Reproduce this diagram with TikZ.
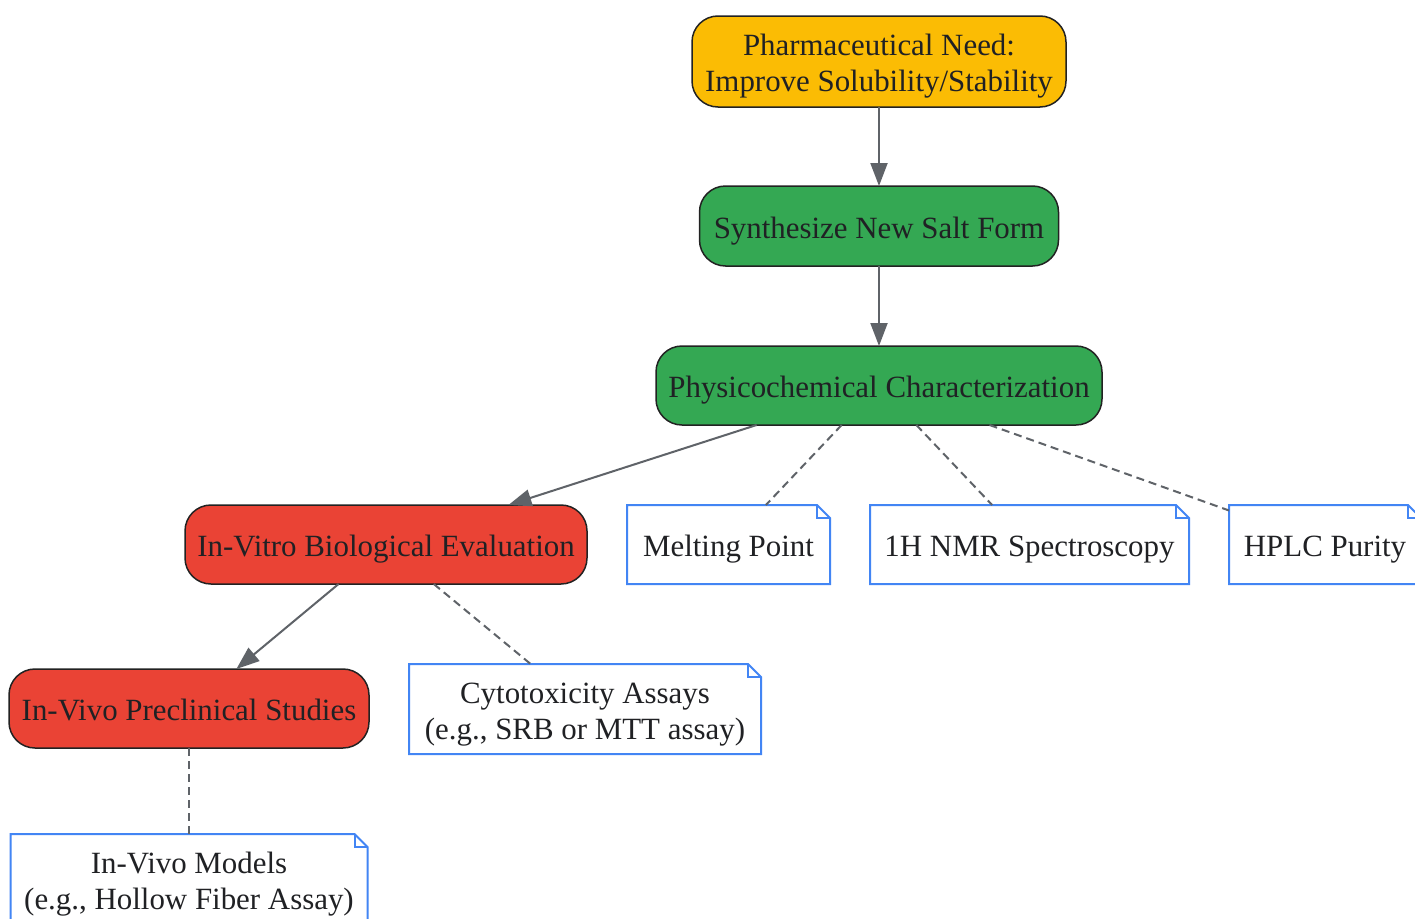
\documentclass[tikz,border=0pt]{standalone}
\usepackage{fontspec}
\setmainfont{Liberation Serif}
\usetikzlibrary{arrows.meta}
\definecolor{gyellow}{HTML}{FBBC04}
\definecolor{ggreen}{HTML}{34A853}
\definecolor{gred}{HTML}{EA4335}
\definecolor{gblue}{HTML}{4285F4}
\definecolor{edgecol}{HTML}{5F6368}
\definecolor{bordercol}{HTML}{222222}
\definecolor{txtcol}{HTML}{202124}
\newcommand\lowtext[1]{\raisebox{-5pt}[\height][\depth]{\begin{tabular}{@{}c@{}}#1\end{tabular}}}
\begin{document}
\begin{tikzpicture}[x=1pt,y=-1pt,
  every node/.style={font=\fontsize{30.9}{36}\selectfont, text=txtcol, align=center, inner sep=0pt, outer sep=0pt},
  proc/.style={draw=bordercol, line width=1.5pt, rounded corners=26pt},
  notebox/.style={draw=none},
  noteline/.style={draw=gblue, line width=2pt, line join=miter},
  link/.style={draw=edgecol, line width=2pt},
  solidarrow/.style={link, -{Triangle[length=23pt,width=17pt]}},
  dashlink/.style={link, dash pattern=on 8pt off 5pt}]
\useasboundingbox (0,0) rectangle (1415,918);
\fill[white] (0,0) rectangle (1415,918);
% process nodes
\node[proc, fill=gyellow, minimum width=374pt, minimum height=91pt] (need) at (879,61.5) {\lowtext{Pharmaceutical Need:\\Improve Solubility/Stability}};
\node[proc, fill=ggreen, minimum width=359pt, minimum height=80pt] (synth) at (879,226) {\lowtext{Synthesize New Salt Form}};
\node[proc, fill=ggreen, minimum width=446pt, minimum height=79pt] (phys) at (879,385.5) {\lowtext{Physicochemical Characterization}};
\node[proc, fill=gred, minimum width=402pt, minimum height=79pt] (vitro) at (386,544.5) {\lowtext{In-Vitro Biological Evaluation}};
\node[proc, fill=gred, minimum width=360pt, minimum height=79pt] (vivo) at (189,708.5) {\lowtext{In-Vivo Preclinical Studies}};
% notes
\node[notebox, minimum width=203pt, minimum height=79pt] (melt) at (728.5,544.5) {\lowtext{Melting Point}};
\node[notebox, minimum width=319pt, minimum height=79pt] (nmr) at (1029.5,544.5) {\lowtext{1H NMR Spectroscopy}};
\node[notebox, minimum width=192pt, minimum height=79pt] (hplc) at (1325,544.5) {\lowtext{HPLC Purity}};
\node[notebox, minimum width=352pt, minimum height=90pt] (cyto) at (585,709) {\lowtext{Cytotoxicity Assays\\(e.g., SRB or MTT assay)}};
\node[notebox, minimum width=357pt, minimum height=90pt] (models) at (189,879) {\lowtext{In-Vivo Models\\(e.g., Hollow Fiber Assay)}};
\foreach \n in {melt,nmr,hplc,cyto,models}{
  \draw[noteline] (\n.north west) -- ([xshift=-13pt]\n.north east) -- ([yshift=-13pt]\n.north east) -- (\n.south east) -- (\n.south west) -- cycle;
  \draw[noteline] ([xshift=-13pt]\n.north east) -- ([xshift=-13pt,yshift=-13pt]\n.north east) -- ([yshift=-13pt]\n.north east);
}
% edges
\draw[solidarrow] (need) -- (synth);
\draw[solidarrow] (synth) -- (phys);
\draw[solidarrow] (phys) -- (vitro);
\draw[dashlink] (phys) -- (melt);
\draw[dashlink] (phys) -- (nmr);
\draw[dashlink] (phys) -- (hplc);
\draw[solidarrow] (vitro) -- (vivo);
\draw[dashlink] (vitro) -- (cyto);
\draw[dashlink] (vivo) -- (models);
\end{tikzpicture}
\end{document}
